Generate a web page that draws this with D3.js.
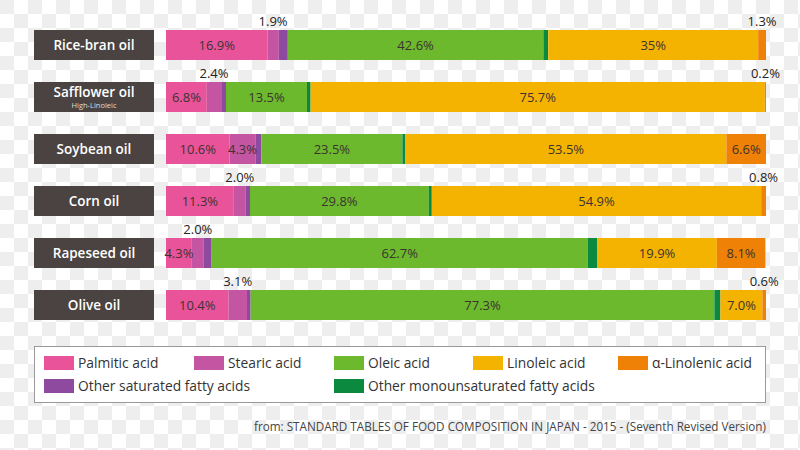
<!DOCTYPE html>
<html>
<head>
<meta charset="utf-8">
<script src="https://cdn.jsdelivr.net/npm/d3@7"></script>
<style>
  html, body { margin: 0; padding: 0; background: #fff; }
  svg { display: block; font-family: "Open Sans", "Noto Sans", sans-serif; }
</style>
</head>
<body>
<svg id="chart" width="800" height="450"></svg>
<script>
// ---- data ----
const oils = ["Rice-bran oil", "Safflower oil", "Soybean oil", "Corn oil", "Rapeseed oil", "Olive oil"];
const oilNotes = ["", "High-Linoleic", "", "", "", ""];
const seriesNames = ["Palmitic acid", "Stearic acid", "Other saturated fatty acids", "Oleic acid",
  "Other monounsaturated fatty acids", "Linoleic acid", "α-Linolenic acid"];
const palmitic       = [16.9, 6.8, 10.6, 11.3, 4.3, 10.4];
const stearic        = [1.9, 2.4, 4.3, 2.0, 2.0, 3.1];
const otherSaturated = [1.5, 0.8, 1.0, 0.7, 1.3, 0.6];
const oleic          = [42.6, 13.5, 23.5, 29.8, 62.7, 77.3];
const otherMono      = [0.8, 0.6, 0.5, 0.5, 1.6, 1.0];
const linoleic       = [35, 75.7, 53.5, 54.9, 19.9, 7.0];
const alphaLinolenic = [1.3, 0.2, 6.6, 0.8, 8.1, 0.6];
// label placement per series per oil: "in" = inside bar, "top" = above bar, "" = none
const palmiticLabel  = ["in", "in", "in", "in", "in", "in"];
const stearicLabel   = ["top", "top", "in", "top", "top", "top"];
const otherSatLabel  = ["", "", "", "", "", ""];
const oleicLabel     = ["in", "in", "in", "in", "in", "in"];
const otherMonoLabel = ["", "", "", "", "", ""];
const linoleicLabel  = ["in", "in", "in", "in", "in", "in"];
const alphaLabel     = ["top", "top", "in", "top", "in", "top"];
const legendOrder = [
  ["Palmitic acid", "Stearic acid", "Oleic acid", "Linoleic acid", "α-Linolenic acid"],
  ["Other saturated fatty acids", null, "Other monounsaturated fatty acids", null, null]
];
const sourceText = "from: STANDARD TABLES OF FOOD COMPOSITION IN JAPAN - 2015 - (Seventh Revised Version)";

// ---- build ----
const seriesValues = [palmitic, stearic, otherSaturated, oleic, otherMono, linoleic, alphaLinolenic];
const seriesLabels = [palmiticLabel, stearicLabel, otherSatLabel, oleicLabel, otherMonoLabel, linoleicLabel, alphaLabel];
const colors = ["#e9539a", "#c455a2", "#8d4a9f", "#6cb92e", "#0b8a3f", "#f5b301", "#ef8106"];
const color = d3.scaleOrdinal().domain(seriesNames).range(colors);

const table = oils.map((oil, i) => {
  const row = { oil };
  seriesNames.forEach((s, j) => { row[s] = seriesValues[j][i]; });
  return row;
});
const stacked = d3.stack().keys(seriesNames)(table);

const svg = d3.select("#chart");

// checkered background
const defs = svg.append("defs");
const pat = defs.append("pattern").attr("id", "checker").attr("patternUnits", "userSpaceOnUse")
  .attr("width", 28).attr("height", 28);
pat.append("rect").attr("width", 28).attr("height", 28).attr("fill", "#ffffff");
pat.append("rect").attr("x", 0).attr("y", 0).attr("width", 14).attr("height", 14).attr("fill", "#eeeeee");
pat.append("rect").attr("x", 14).attr("y", 14).attr("width", 14).attr("height", 14).attr("fill", "#eeeeee");
svg.append("rect").attr("width", 800).attr("height", 450).attr("fill", "url(#checker)");

const x = d3.scaleLinear().domain([0, 100]).range([166, 766]);
// step = 52, band = 30
const yB = d3.scaleBand().domain(oils).range([30, 320]).paddingInner(22 / 52).paddingOuter(0);

// name boxes
const names = svg.append("g").selectAll("g").data(oils).join("g")
  .attr("transform", d => `translate(34,${yB(d)})`);
names.append("rect").attr("width", 120).attr("height", yB.bandwidth()).attr("fill", "#4a4341");
names.append("text")
  .attr("x", 60).attr("y", (d, i) => oilNotes[i] ? 15 : 20)
  .attr("text-anchor", "middle").attr("fill", "#fff")
  .attr("font-size", 13.5).attr("font-weight", 600)
  .text(d => d);
names.filter((d, i) => oilNotes[i]).append("text")
  .attr("x", 60).attr("y", 26).attr("text-anchor", "middle").attr("fill", "#ddd")
  .attr("font-size", 7.5)
  .text((d) => oilNotes[oils.indexOf(d)]);

// bars
const fmt = v => (Number.isInteger(v) && v >= 10) ? v + "%" : v.toFixed(1) + "%";
const layers = svg.append("g").selectAll("g").data(stacked).join("g")
  .attr("fill", d => color(d.key));
layers.selectAll("rect").data(d => d).join("rect")
  .attr("x", d => x(d[0]))
  .attr("y", d => yB(d.data.oil))
  .attr("width", d => x(d[1]) - x(d[0]))
  .attr("height", yB.bandwidth());

// labels
const labelG = svg.append("g").attr("font-size", 13);
stacked.forEach((layer, j) => {
  layer.forEach((d, i) => {
    const mode = seriesLabels[j][i];
    if (!mode) return;
    const cx = (x(d[0]) + x(d[1])) / 2;
    const top = yB(d.data.oil);
    labelG.append("text")
      .attr("x", cx)
      .attr("y", mode === "in" ? top + 20 : top - 4)
      .attr("text-anchor", "middle")
      .attr("fill", mode === "in" ? "#3b3330" : "#222")
      .text(fmt(seriesValues[j][i]));
  });
});

// legend
const legend = svg.append("g");
legend.append("rect").attr("x", 34.5).attr("y", 346.5).attr("width", 731).attr("height", 56)
  .attr("fill", "#fff").attr("stroke", "#999").attr("stroke-width", 1);
const colX = [44, 194, 334, 473, 618];
const rowY = [356, 379];
legendOrder.forEach((row, r) => {
  row.forEach((name, c) => {
    if (!name) return;
    legend.append("rect").attr("x", colX[c]).attr("y", rowY[r]).attr("width", 30).attr("height", 14)
      .attr("fill", color(name));
    legend.append("text").attr("x", colX[c] + 34).attr("y", rowY[r] + 12)
      .attr("font-size", 13.8).attr("fill", "#333").text(name);
  });
});

// source
svg.append("text").attr("x", 766).attr("y", 431).attr("text-anchor", "end")
  .attr("font-size", 11.7).attr("fill", "#444").text(sourceText);
</script>
</body>
</html>
